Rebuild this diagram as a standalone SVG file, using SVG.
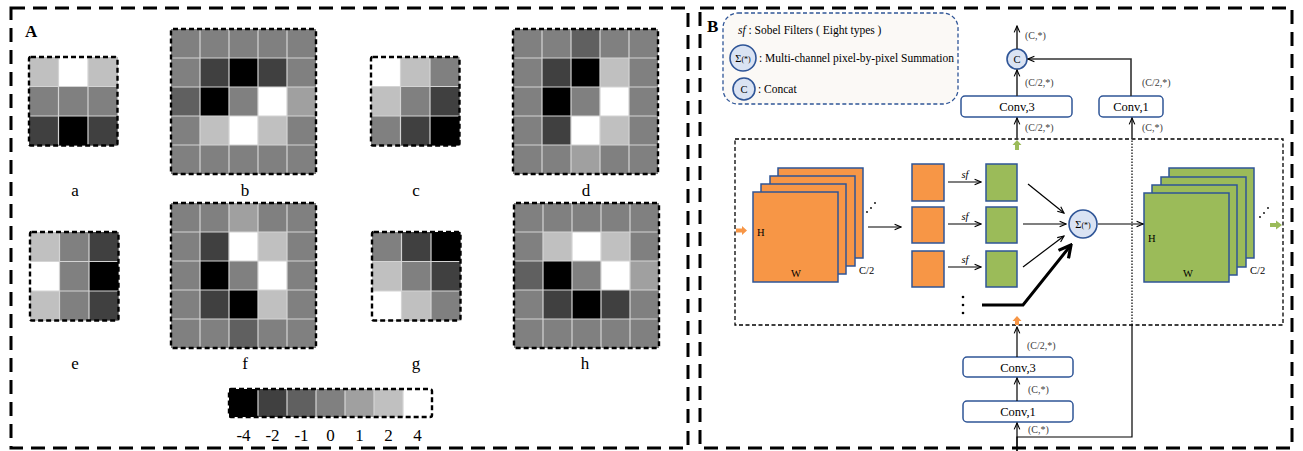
<svg xmlns="http://www.w3.org/2000/svg" xmlns:xlink="http://www.w3.org/1999/xlink" width="1303" height="451" viewBox="0 0 1303 451">
  <style>
    .panel { fill: none; stroke: #000; stroke-width: 3; stroke-dasharray: 14 8; }
    .kout { fill: none; stroke: #000; stroke-width: 2.4; stroke-dasharray: 5 3; }
    .grid { fill: none; stroke: #d4d4d4; stroke-width: 1.2; }
    .m4 { fill: #000; } .m2 { fill: #404040; } .m1 { fill: #606060; }
    .z { fill: #808080; } .p1 { fill: #a0a0a0; } .p2 { fill: #c0c0c0; } .p4 { fill: #fff; }
    .lbl { font-family: "Liberation Serif", serif; font-size: 17px; fill: #000; text-anchor: middle; }
    .big { font-family: "Liberation Serif", serif; font-size: 17px; font-weight: bold; fill: #000; }
    .leg { font-family: "Liberation Serif", serif; font-size: 11.5px; fill: #000; }
    .dim { font-family: "Liberation Serif", serif; font-size: 10px; fill: #404040; }
    .conv { fill: #fff; stroke: #2F5597; stroke-width: 1.5; }
    .convt { font-family: "Liberation Serif", serif; font-size: 12.5px; fill: #000; text-anchor: middle; }
    .op { fill: #DAE3F3; stroke: #2F5597; stroke-width: 1.6; }
    .or { fill: #F79646; stroke: #2F5597; stroke-width: 1.5; }
    .gr { fill: #9BBB59; stroke: #2F5597; stroke-width: 1.5; }
    .fm { font-family: "Liberation Serif", serif; font-size: 10.5px; fill: #000; }
    .ln { fill: none; stroke: #000; stroke-width: 1.2; }
    .ln2 { fill: none; stroke: #333; stroke-width: 1.6; }
  </style>
  <defs>
    <path id="grid3" class="grid" d="M29.5,0V88.5M59,0V88.5M0,29.5H88.5M0,59H88.5"/>
    <path id="grid5" class="grid" d="M29,0V145M58,0V145M87,0V145M116,0V145M0,29H145M0,58H145M0,87H145M0,116H145"/>
    <marker id="ah" viewBox="0 0 10 10" refX="9" refY="5" markerWidth="8" markerHeight="8" orient="auto" markerUnits="userSpaceOnUse">
      <path d="M1,1.5 L9,5 L1,8.5" fill="none" stroke="#000" stroke-width="1.4"/>
    </marker>
    <marker id="ahb" viewBox="0 0 10 10" refX="9" refY="5" markerWidth="16" markerHeight="16" orient="auto" markerUnits="userSpaceOnUse">
      <path d="M1.5,1 L9,5 L1.5,9" fill="none" stroke="#000" stroke-width="2"/>
    </marker>
  </defs>

  <rect width="1303" height="451" fill="#fff"/>

  <!-- Panel A: Sobel kernels -->
  <rect class="panel" x="11" y="8" width="677" height="440"/>
  <text class="big" x="25" y="37">A</text>

  <g id="kernel-a" transform="translate(29,57)">
    <rect class="z" width="88.5" height="88.5"/>
    <rect class="p2" x="0" y="0" width="29.5" height="29.5"/><rect class="p4" x="29.5" y="0" width="29.5" height="29.5"/><rect class="p2" x="59" y="0" width="29.5" height="29.5"/>
    <rect class="m2" x="0" y="59" width="29.5" height="29.5"/><rect class="m4" x="29.5" y="59" width="29.5" height="29.5"/><rect class="m2" x="59" y="59" width="29.5" height="29.5"/>
    <use href="#grid3"/>
    <rect class="kout" width="88.5" height="88.5" rx="2"/>
  </g>
  <g id="kernel-b" transform="translate(171,29)">
    <rect class="z" width="145" height="145"/>
    <rect class="m2" x="29" y="29" width="29" height="29"/><rect class="m4" x="58" y="29" width="29" height="29"/><rect class="m2" x="87" y="29" width="29" height="29"/>
    <rect class="m1" x="0" y="58" width="29" height="29"/><rect class="m4" x="29" y="58" width="29" height="29"/><rect class="p4" x="87" y="58" width="29" height="29"/><rect class="p1" x="116" y="58" width="29" height="29"/>
    <rect class="p2" x="29" y="87" width="29" height="29"/><rect class="p4" x="58" y="87" width="29" height="29"/><rect class="p2" x="87" y="87" width="29" height="29"/>
    <use href="#grid5"/>
    <rect class="kout" width="145" height="145" rx="2"/>
  </g>
  <g id="kernel-c" transform="translate(371,57)">
    <rect class="z" width="88.5" height="88.5"/>
    <rect class="p4" x="0" y="0" width="29.5" height="29.5"/><rect class="p2" x="29.5" y="0" width="29.5" height="29.5"/>
    <rect class="p2" x="0" y="29.5" width="29.5" height="29.5"/><rect class="m2" x="59" y="29.5" width="29.5" height="29.5"/>
    <rect class="m2" x="29.5" y="59" width="29.5" height="29.5"/><rect class="m4" x="59" y="59" width="29.5" height="29.5"/>
    <use href="#grid3"/>
    <rect class="kout" width="88.5" height="88.5" rx="2"/>
  </g>
  <g id="kernel-d" transform="translate(513,29)">
    <rect class="z" width="145" height="145"/>
    <rect class="m1" x="58" y="0" width="29" height="29"/>
    <rect class="m2" x="29" y="29" width="29" height="29"/><rect class="m4" x="58" y="29" width="29" height="29"/><rect class="p2" x="87" y="29" width="29" height="29"/>
    <rect class="m4" x="29" y="58" width="29" height="29"/><rect class="p4" x="87" y="58" width="29" height="29"/>
    <rect class="m2" x="29" y="87" width="29" height="29"/><rect class="p4" x="58" y="87" width="29" height="29"/><rect class="p2" x="87" y="87" width="29" height="29"/>
    <rect class="p1" x="58" y="116" width="29" height="29"/>
    <use href="#grid5"/>
    <rect class="kout" width="145" height="145" rx="2"/>
  </g>
  <g id="kernel-e" transform="translate(30,232)">
    <rect class="z" width="88.5" height="88.5"/>
    <rect class="p2" x="0" y="0" width="29.5" height="29.5"/><rect class="m2" x="59" y="0" width="29.5" height="29.5"/>
    <rect class="p4" x="0" y="29.5" width="29.5" height="29.5"/><rect class="m4" x="59" y="29.5" width="29.5" height="29.5"/>
    <rect class="p2" x="0" y="59" width="29.5" height="29.5"/><rect class="m2" x="59" y="59" width="29.5" height="29.5"/>
    <use href="#grid3"/>
    <rect class="kout" width="88.5" height="88.5" rx="2"/>
  </g>
  <g id="kernel-f" transform="translate(171,203)">
    <rect class="z" width="145" height="145"/>
    <rect class="p1" x="58" y="0" width="29" height="29"/>
    <rect class="m2" x="29" y="29" width="29" height="29"/><rect class="p4" x="58" y="29" width="29" height="29"/><rect class="p2" x="87" y="29" width="29" height="29"/>
    <rect class="m4" x="29" y="58" width="29" height="29"/><rect class="p4" x="87" y="58" width="29" height="29"/>
    <rect class="m2" x="29" y="87" width="29" height="29"/><rect class="m4" x="58" y="87" width="29" height="29"/><rect class="p2" x="87" y="87" width="29" height="29"/>
    <rect class="m1" x="58" y="116" width="29" height="29"/>
    <use href="#grid5"/>
    <rect class="kout" width="145" height="145" rx="2"/>
  </g>
  <g id="kernel-g" transform="translate(372,232)">
    <rect class="z" width="88.5" height="88.5"/>
    <rect class="m2" x="29.5" y="0" width="29.5" height="29.5"/><rect class="m4" x="59" y="0" width="29.5" height="29.5"/>
    <rect class="p2" x="0" y="29.5" width="29.5" height="29.5"/><rect class="m2" x="59" y="29.5" width="29.5" height="29.5"/>
    <rect class="p4" x="0" y="59" width="29.5" height="29.5"/><rect class="p2" x="29.5" y="59" width="29.5" height="29.5"/>
    <use href="#grid3"/>
    <rect class="kout" width="88.5" height="88.5" rx="2"/>
  </g>
  <g id="kernel-h" transform="translate(514,203)">
    <rect class="z" width="145" height="145"/>
    <rect class="p2" x="29" y="29" width="29" height="29"/><rect class="p4" x="58" y="29" width="29" height="29"/><rect class="p2" x="87" y="29" width="29" height="29"/>
    <rect class="m1" x="0" y="58" width="29" height="29"/><rect class="m4" x="29" y="58" width="29" height="29"/><rect class="p4" x="87" y="58" width="29" height="29"/><rect class="p1" x="116" y="58" width="29" height="29"/>
    <rect class="m2" x="29" y="87" width="29" height="29"/><rect class="m4" x="58" y="87" width="29" height="29"/><rect class="m2" x="87" y="87" width="29" height="29"/>
    <use href="#grid5"/>
    <rect class="kout" width="145" height="145" rx="2"/>
  </g>

  <g id="kernel-labels">
    <text class="lbl" x="75" y="196">a</text>
    <text class="lbl" x="245" y="196">b</text>
    <text class="lbl" x="416" y="196">c</text>
    <text class="lbl" x="586" y="196">d</text>
    <text class="lbl" x="75" y="369">e</text>
    <text class="lbl" x="245" y="369">f</text>
    <text class="lbl" x="416" y="369">g</text>
    <text class="lbl" x="585" y="369">h</text>
  </g>

  <g id="colorbar" transform="translate(229,389)">
    <rect class="m4" x="0" width="29" height="28"/>
    <rect class="m2" x="29" width="29" height="28"/>
    <rect class="m1" x="58" width="29" height="28"/>
    <rect class="z" x="87" width="29" height="28"/>
    <rect class="p1" x="116" width="29" height="28"/>
    <rect class="p2" x="145" width="29" height="28"/>
    <rect class="p4" x="174" width="29" height="28"/>
    <path class="grid" d="M29,0V28M58,0V28M87,0V28M116,0V28M145,0V28M174,0V28"/>
    <rect class="kout" width="203" height="28" rx="2"/>
    <g class="lbl" font-size="16">
      <text x="14.5" y="52">-4</text>
      <text x="43.5" y="52">-2</text>
      <text x="72.5" y="52">-1</text>
      <text x="101.5" y="52">0</text>
      <text x="130.5" y="52">1</text>
      <text x="159.5" y="52">2</text>
      <text x="188.5" y="52">4</text>
    </g>
  </g>

  <!-- Panel B: Sobel convolution block -->
  <rect class="panel" x="700" y="8" width="592" height="440"/>
  <text class="big" x="707" y="32">B</text>

  <g id="legend">
    <rect x="723" y="13" width="235" height="91" rx="15" fill="#FBF9F6" stroke="#2F5597" stroke-width="1.3" stroke-dasharray="4 2.5"/>
    <text class="leg" x="738" y="34"><tspan font-style="italic">sf</tspan> : Sobel Filters ( Eight types )</text>
    <circle class="op" cx="743" cy="58" r="13"/>
    <text class="fm" x="743" y="62" text-anchor="middle" font-size="11.5">Σ<tspan font-size="8">(*)</tspan></text>
    <text class="leg" x="759" y="62" textLength="195" lengthAdjust="spacing">: Multi-channel  pixel-by-pixel  Summation</text>
    <circle class="op" cx="744" cy="89" r="11"/>
    <text class="fm" x="744" y="93" text-anchor="middle" font-size="12">C</text>
    <text class="leg" x="758" y="93">: Concat</text>
  </g>

  <g id="inner-block">
    <rect x="735" y="139" width="548" height="186" fill="none" stroke="#000" stroke-width="1.3" stroke-dasharray="4 2.5"/>
  </g>

  <g id="concat">
    <circle class="op" cx="1017" cy="59" r="10"/>
    <text class="fm" x="1017" y="63" text-anchor="middle" font-size="12">C</text>
  </g>
  <g id="conv3-top">
    <rect class="conv" x="961" y="96" width="111" height="21" rx="4"/>
    <text class="convt" x="1017" y="111">Conv,3</text>
  </g>
  <g id="conv1-top">
    <rect class="conv" x="1099" y="96" width="64" height="21" rx="4"/>
    <text class="convt" x="1131" y="111">Conv,1</text>
  </g>
  <g id="conv3-bottom">
    <rect class="conv" x="963" y="357" width="110" height="20" rx="4"/>
    <text class="convt" x="1018" y="372">Conv,3</text>
  </g>
  <g id="conv1-bottom">
    <rect class="conv" x="963" y="401" width="110" height="21" rx="4"/>
    <text class="convt" x="1018" y="416">Conv,1</text>
  </g>

  <g id="input-stack">
    <rect class="or" x="778" y="168" width="85" height="90"/>
    <rect class="or" x="770" y="176" width="85" height="90"/>
    <rect class="or" x="761" y="184" width="85" height="90"/>
    <rect class="or" x="753" y="192" width="85" height="90"/>
    <text class="fm" x="757" y="236">H</text>
    <text class="fm" x="791" y="277">W</text>
    <text class="fm" x="859" y="274">C/2</text>
    <g fill="#000"><circle cx="867" cy="212" r="0.9"/><circle cx="871" cy="208" r="0.9"/><circle cx="875" cy="203" r="0.9"/></g>
  </g>

  <g id="channel-maps">
    <rect class="or" x="912" y="164" width="32" height="37"/>
    <rect class="or" x="912" y="207" width="32" height="36"/>
    <rect class="or" x="912" y="251" width="32" height="36"/>
    <rect class="gr" x="986" y="164" width="31" height="37"/>
    <rect class="gr" x="986" y="207" width="31" height="36"/>
    <rect class="gr" x="986" y="251" width="31" height="36"/>
    <g class="fm" font-style="italic" font-size="11.5" text-anchor="middle">
      <text x="965" y="178">sf</text>
      <text x="965" y="220">sf</text>
      <text x="965" y="263">sf</text>
    </g>
    <g fill="#000"><circle cx="963" cy="297" r="1.3"/><circle cx="963" cy="305" r="1.3"/><circle cx="963" cy="313" r="1.3"/></g>
  </g>

  <g id="summation">
    <circle class="op" cx="1083" cy="224" r="14"/>
    <text class="fm" x="1083" y="228" text-anchor="middle" font-size="11.5">Σ<tspan font-size="8">(*)</tspan></text>
  </g>

  <g id="output-stack">
    <rect class="gr" x="1169" y="168" width="85" height="90"/>
    <rect class="gr" x="1161" y="177" width="85" height="90"/>
    <rect class="gr" x="1152" y="185" width="85" height="90"/>
    <rect class="gr" x="1144" y="193" width="85" height="89"/>
    <text class="fm" x="1148" y="242">H</text>
    <text class="fm" x="1183" y="277">W</text>
    <text class="fm" x="1250" y="274">C/2</text>
    <g fill="#000"><circle cx="1260" cy="217" r="0.9"/><circle cx="1264" cy="213" r="0.9"/><circle cx="1268" cy="208" r="0.9"/></g>
  </g>

  <g id="connectors">
    <!-- inside the block -->
    <line class="ln" x1="868" y1="227" x2="901" y2="227" marker-end="url(#ah)"/>
    <line class="ln" x1="948" y1="182" x2="981" y2="182" marker-end="url(#ah)"/>
    <line class="ln" x1="948" y1="224" x2="981" y2="224" marker-end="url(#ah)"/>
    <line class="ln" x1="948" y1="267" x2="981" y2="267" marker-end="url(#ah)"/>
    <line class="ln" x1="1028" y1="184" x2="1064" y2="213" marker-end="url(#ah)"/>
    <line class="ln" x1="1023" y1="224" x2="1066" y2="224" marker-end="url(#ah)"/>
    <line class="ln" x1="1023" y1="267" x2="1064" y2="236" marker-end="url(#ah)"/>
    <polyline points="982,305 1023,305 1071,245" fill="none" stroke="#000" stroke-width="3" marker-end="url(#ahb)"/>
    <line class="ln" x1="1098" y1="224" x2="1143" y2="224" marker-end="url(#ah)"/>

    <!-- shortcut branch -->
    <polyline class="ln" points="1017,451 1017,437 1132,437 1132,325"/>
    <line x1="1132" y1="325" x2="1132" y2="139" stroke="#000" stroke-width="1.2" stroke-dasharray="1.5 1.5"/>
    <line class="ln2" x1="1132" y1="139" x2="1132" y2="118" marker-end="url(#ah)"/>
    <polyline class="ln2" points="1131,96 1131,59 1028,59" marker-end="url(#ah)"/>

    <!-- main branch -->
    <line class="ln" x1="1017" y1="451" x2="1017" y2="423" marker-end="url(#ah)"/>
    <line class="ln" x1="1017" y1="401" x2="1017" y2="378" marker-end="url(#ah)"/>
    <line class="ln" x1="1017" y1="357" x2="1017" y2="327" marker-end="url(#ah)"/>
    <line class="ln2" x1="1017" y1="139" x2="1017" y2="118" marker-end="url(#ah)"/>
    <line class="ln2" x1="1017" y1="96" x2="1017" y2="70" marker-end="url(#ah)"/>
    <line class="ln2" x1="1017" y1="49" x2="1017" y2="26" marker-end="url(#ah)"/>

    <!-- block entry / exit arrows -->
    <polygon fill="#F79646" points="736,228.5 742,228.5 742,226 747,230.5 742,235 742,232.5 736,232.5"/>
    <polygon fill="#9BBB59" points="1270,223 1276,223 1276,220.5 1282,225 1276,229.5 1276,227 1270,227"/>
    <polygon fill="#9BBB59" points="1015,150 1015,145 1012.5,145 1017,140 1021.5,145 1019,145 1019,150"/>
    <polygon fill="#F79646" points="1015,325 1015,321 1012.5,321 1017,316 1021.5,321 1019,321 1019,325"/>
  </g>

  <g id="dimension-labels">
    <text class="dim" x="1025" y="39">(C,*)</text>
    <text class="dim" x="1025" y="86">(C/2,*)</text>
    <text class="dim" x="1142" y="86">(C/2,*)</text>
    <text class="dim" x="1025" y="131">(C/2,*)</text>
    <text class="dim" x="1142" y="131">(C,*)</text>
    <text class="dim" x="1027" y="349">(C/2,*)</text>
    <text class="dim" x="1028" y="393">(C,*)</text>
    <text class="dim" x="1028" y="433">(C,*)</text>
  </g>
</svg>
